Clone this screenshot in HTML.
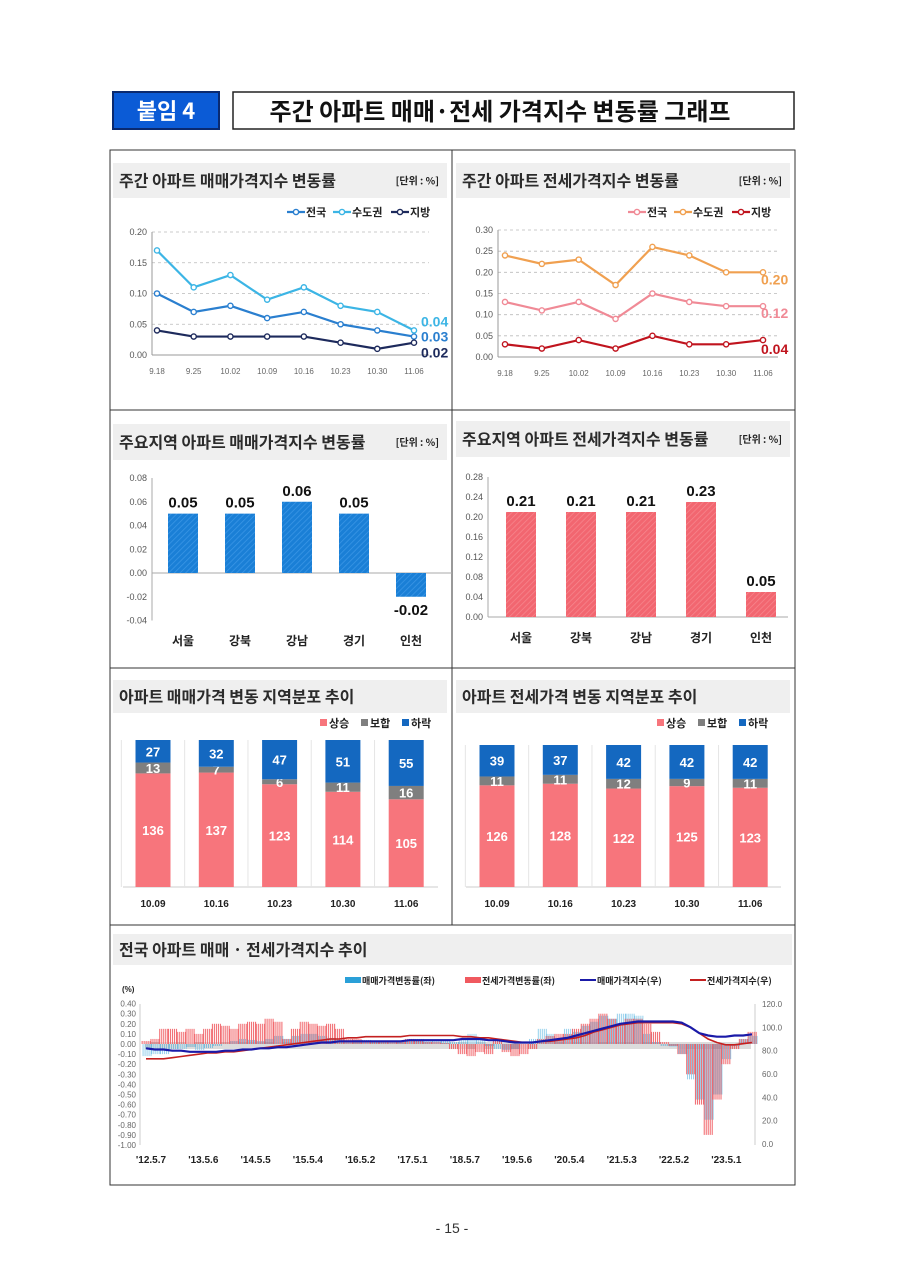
<!DOCTYPE html>
<html><head><meta charset="utf-8">
<style>
html,body{margin:0;padding:0;background:#fff;}
svg{display:block;font-family:"Liberation Sans","Noto Sans CJK KR",sans-serif;}
</style></head>
<body>
<svg id="pg" width="905" height="1280" viewBox="0 0 905 1280" xmlns="http://www.w3.org/2000/svg">
<defs>
<pattern id="hatchB" width="4" height="4" patternUnits="userSpaceOnUse" patternTransform="rotate(45)"><rect width="4" height="4" fill="#1a7fd6"/><line x1="0" y1="0" x2="0" y2="4" stroke="#3c97e6" stroke-width="1.5"/></pattern>
<pattern id="hatchR" width="4" height="4" patternUnits="userSpaceOnUse" patternTransform="rotate(45)"><rect width="4" height="4" fill="#f26670"/><line x1="0" y1="0" x2="0" y2="4" stroke="#f7868d" stroke-width="1.5"/></pattern>
</defs>
<g>
<rect x="113" y="92" width="106" height="37" fill="#0b5bd6" stroke="#0a2a70" stroke-width="2"/>
<text x="166" y="119" text-anchor="middle" font-size="22" font-weight="bold" fill="#fff" font-family="Noto Sans CJK KR,sans-serif">붙임 4</text>
</g>
<g>
<rect x="233" y="92" width="561" height="37" fill="#fff" stroke="#222" stroke-width="1.5"/>
<text x="500" y="120" text-anchor="middle" font-size="24" font-weight="bold" fill="#111" font-family="Noto Sans CJK KR,sans-serif">주간 아파트 매매·전세 가격지수 변동률 그래프</text>
</g>
<rect x="110" y="150" width="685" height="1035" fill="none" stroke="#333" stroke-width="1"/>
<line x1="452" y1="150" x2="452" y2="925" stroke="#333"/>
<line x1="110" y1="410" x2="795" y2="410" stroke="#333"/>
<line x1="110" y1="668" x2="795" y2="668" stroke="#333"/>
<line x1="110" y1="925" x2="795" y2="925" stroke="#333"/>
<g id="root"></g>
<text x="452" y="1233" text-anchor="middle" font-size="14" fill="#333">- 15 -</text>
</svg>
<script>
const weeks = ["9.18","9.25","10.02","10.09","10.16","10.23","10.30","11.06"];
const saleNation = [0.10,0.07,0.08,0.06,0.07,0.05,0.04,0.03];
const saleCapital = [0.17,0.11,0.13,0.09,0.11,0.08,0.07,0.04];
const saleLocal = [0.04,0.03,0.03,0.03,0.03,0.02,0.01,0.02];
const rentNation = [0.13,0.11,0.13,0.09,0.15,0.13,0.12,0.12];
const rentCapital = [0.24,0.22,0.23,0.17,0.26,0.24,0.20,0.20];
const rentLocal = [0.03,0.02,0.04,0.02,0.05,0.03,0.03,0.04];
const p1Ticks = ["0.00","0.05","0.10","0.15","0.20"];
const p2Ticks = ["0.00","0.05","0.10","0.15","0.20","0.25","0.30"];
const regions = ["서울","강북","강남","경기","인천"];
const regionSale = [0.05,0.05,0.06,0.05,-0.02];
const regionRent = [0.21,0.21,0.21,0.23,0.05];
const p3Ticks = ["-0.04","-0.02","0.00","0.02","0.04","0.06","0.08"];
const p4Ticks = ["0.00","0.04","0.08","0.12","0.16","0.20","0.24","0.28"];
const distWeeks = ["10.09","10.16","10.23","10.30","11.06"];
const saleUp = [136,137,123,114,105];
const saleFlat = [13,7,6,11,16];
const saleDown = [27,32,47,51,55];
const rentUp = [126,128,122,125,123];
const rentFlat = [11,11,12,9,11];
const rentDown = [39,37,42,42,42];
const longXLabels = ["'12.5.7","'13.5.6","'14.5.5","'15.5.4","'16.5.2","'17.5.1","'18.5.7","'19.5.6","'20.5.4","'21.5.3","'22.5.2","'23.5.1"];
const longLeftTicks = ["0.40","0.30","0.20","0.10","0.00","-0.10","-0.20","-0.30","-0.40","-0.50","-0.60","-0.70","-0.80","-0.90","-1.00"];
const longRightTicks = ["120.0","100.0","80.0","60.0","40.0","20.0","0.0"];
const rentChange = [0.03,0.05,0.15,0.15, 0.12,0.15,0.1,0.15,0.2,0.18, 0.15,0.2,0.22,0.2,0.25,0.22, 0.05,0.15,0.22,0.2,0.18,0.2, 0.15,0.05,0.05,0.03,0.02,0.03, 0.02,0.02,0.05,0.03,0.02,0.02, 0.01,-0.05,-0.10,-0.12,-0.08,-0.1, 0.05,-0.08,-0.12,-0.1,-0.05,0.05, 0.08,0.1,0.1,0.15,0.2,0.25, 0.3,0.25,0.2,0.25,0.25,0.2, 0.12,0.02,-0.02,-0.1,-0.3,-0.6, -0.9,-0.55,-0.2,-0.05,0.05,0.12];
const saleChange = [-0.12,-0.1,-0.1,-0.05, -0.05,-0.03,-0.06,-0.04,-0.02,0.0, 0.03,0.05,0.04,0.03,0.05,0.08, 0.05,0.08,0.1,0.1,0.08,0.06, 0.05,0.03,0.04,0.04,0.03,0.03, 0.02,0.03,0.04,0.05,0.04,0.04, 0.03,0.02,0.04,0.1,0.06,-0.02, -0.05,-0.06,-0.05,0.0,0.05,0.15, 0.1,0.05,0.15,0.12,0.18,0.22, 0.28,0.25,0.3,0.3,0.28,0.1, 0.02,-0.02,-0.03,-0.1,-0.35,-0.55, -0.75,-0.5,-0.15,-0.02,0.05,0.08];
const saleIndex = [82,81,81,80, 80,79,79,79,79,80, 80,81,81,82,82,83, 83,84,85,86,87,87, 88,88,88,88,88,88, 88,88,89,89,89,89, 89,89,90,90,90,89, 89,88,87,87,87,88, 89,90,91,93,95,97, 99,101,103,104,105,105, 105,105,105,104,100,95, 93,92,92,93,93,94];
const rentIndex = [73,73,73,74, 75,76,77,78,78,79, 79,80,81,82,83,84, 85,86,87,88,89,90, 90,91,91,92,92,92, 92,92,93,93,93,93, 93,93,92,92,91,91, 90,89,88,87,87,88, 88,89,90,91,93,96, 98,100,102,103,104,104, 104,104,104,103,100,95, 90,87,85,85,86,87];

const NS="http://www.w3.org/2000/svg";
const root=document.getElementById('root');
function mk(tag, attrs, parent){const e=document.createElementNS(NS,tag);for(const k in attrs)e.setAttribute(k,attrs[k]);(parent||root).appendChild(e);return e;}
function txt(x,y,s,size,fill,anchor,weight,parent){const e=mk('text',{x:x,y:y,'font-size':size,fill:fill,'text-anchor':anchor||'start','font-weight':weight||'normal'},parent);e.textContent=s;return e;}
const KR='"Noto Sans CJK KR",sans-serif';

function band(x,y,w,h,title,unit,name){
  const g=mk('g',{});
  
  
  mk('rect',{x:x,y:y,width:w,height:h,fill:'#efefef'},g);
  const t=txt(x+6,y+h/2+6,title,16,'#2b2b2b','start','bold',g);t.setAttribute('font-family',KR);
  if(unit){const u=txt(x+w-8,y+h/2+4,unit,10,'#222','end','bold',g);u.setAttribute('font-family',KR);}
}

function linePanel(o){
  band(o.bx,163,334,35,o.title,'[단위 : %]',o.name+'-title');
  const g=mk('g',{});
  
  
  const yS=v=>o.y0-(v/o.max)*(o.y0-o.ytop);
  const xS=i=>o.x0+i*(o.x1-o.x0)/(weeks.length-1);
  o.ticks.forEach(t=>{const v=parseFloat(t);const y=yS(v);
    if(v>0)mk('line',{x1:o.axisX,y1:y,x2:o.x1+15,y2:y,stroke:'#bbb','stroke-dasharray':'3,3','stroke-width':0.8},g);
    const tt=txt(o.axisX-5,y+3,t,9,'#555','end','normal',g);
    
  });
  mk('line',{x1:o.axisX,y1:o.ytop,x2:o.axisX,y2:o.y0,stroke:'#999'},g);
  mk('line',{x1:o.axisX,y1:o.y0,x2:o.x1+15,y2:o.y0,stroke:'#999'},g);
  weeks.forEach((w,i)=>{const tt=txt(xS(i),o.y0+19,w,8,'#666','middle','normal',g);});
  o.series.forEach(s=>{
    const pts=s.data.map((v,i)=>xS(i)+','+yS(v)).join(' ');
    const pl=mk('polyline',{points:pts,fill:'none',stroke:s.color,'stroke-width':2.2},g);
    
    
    s.data.forEach((v,i)=>{const c=mk('circle',{cx:xS(i),cy:yS(v),r:2.6,fill:'#fff',stroke:s.color,'stroke-width':1.4},g);
      
      });
    const last=s.data[s.data.length-1];
    const lb=txt(xS(s.data.length-1)+o.lblDx,yS(last)+s.dy,last.toFixed(2),14,s.color,'start','bold',g);
    
  });
  let lx=o.legX;
  o.series.forEach(s=>{
    const lg=mk('g',{},g);
    
    
    mk('line',{x1:lx,y1:212,x2:lx+18,y2:212,stroke:s.color,'stroke-width':2.2},lg);
    mk('circle',{cx:lx+9,cy:212,r:2.6,fill:'#fff',stroke:s.color,'stroke-width':1.4},lg);
    const t=txt(lx+19,216,s.label,11,'#222','start','bold',lg);t.setAttribute('font-family',KR);
    lx+=s.w;
  });
}

linePanel({name:'weekly-sale',bx:113,title:'주간 아파트 매매가격지수 변동률',ticks:p1Ticks,max:0.20,y0:355,ytop:232,axisX:152,x0:157,x1:414,legX:287,lblDx:7,
  series:[{name:'nation',label:'전국',data:saleNation,color:'#2a7fcf',dy:5,w:46},
          {name:'capital',label:'수도권',data:saleCapital,color:'#3cb5e5',dy:-4,w:58},
          {name:'local',label:'지방',data:saleLocal,color:'#1d2a5c',dy:15,w:40}]});
linePanel({name:'weekly-rent',bx:456,title:'주간 아파트 전세가격지수 변동률',ticks:p2Ticks,max:0.30,y0:357,ytop:230,axisX:498,x0:505,x1:763,legX:628,lblDx:-2,
  series:[{name:'nation',label:'전국',data:rentNation,color:'#f08a96',dy:12,w:46},
          {name:'capital',label:'수도권',data:rentCapital,color:'#f0a050',dy:12,w:58},
          {name:'local',label:'지방',data:rentLocal,color:'#c0141e',dy:14,w:40}]});

function barPanel(o){
  band(o.bx,o.by,334,36,o.title,'[단위 : %]',o.name+'-title');
  const g=mk('g',{});
  
  
  const yS=v=>o.y0-(v/o.max)*(o.y0-o.ytop);
  o.ticks.forEach(t=>{const y=yS(parseFloat(t));const tt=txt(o.axisX-5,y+3,t,9,'#555','end','normal',g);});
  mk('line',{x1:o.axisX,y1:yS(parseFloat(o.ticks[o.ticks.length-1])),x2:o.axisX,y2:yS(parseFloat(o.ticks[0])),stroke:'#aaa'},g);
  mk('line',{x1:o.axisX,y1:o.y0,x2:o.axisX+300,y2:o.y0,stroke:'#aaa'},g);
  regions.forEach((r,i)=>{
    const cx=o.cx0+i*o.step;const v=o.data[i];
    const y=Math.min(yS(v),o.y0);const h=Math.abs(yS(v)-o.y0);
    const b=mk('rect',{x:cx-15,y:y,width:30,height:h,fill:o.fill},g);
    
    
    const ly=v>=0?yS(v)-6:yS(v)+18;
    const lb=txt(cx,ly,v.toFixed(2),15,'#111','middle','bold',g);
    
    const c=txt(cx,o.catY,r,12,'#222','middle','bold',g);c.setAttribute('font-family',KR);
    
  });
}
barPanel({name:'region-sale',bx:113,by:424,title:'주요지역 아파트 매매가격지수 변동률',ticks:p3Ticks,max:0.08,y0:573,ytop:478,axisX:152,cx0:183,step:57,data:regionSale,fill:'url(#hatchB)',catY:645});
barPanel({name:'region-rent',bx:456,by:421,title:'주요지역 아파트 전세가격지수 변동률',ticks:p4Ticks,max:0.28,y0:617,ytop:477,axisX:488,cx0:521,step:60,data:regionRent,fill:'url(#hatchR)',catY:642});

function stackPanel(o){
  band(o.bx,680,334,33,o.title,null,o.name+'-title');
  const g=mk('g',{});
  
  
  const L=[['상승','#f7757c'],['보합','#7f7f7f'],['하락','#1468c0']];
  L.forEach((l,i)=>{const lx=o.legX+i*41;
    const lg=mk('g',{},g);
    
    
    mk('rect',{x:lx,y:719,width:7,height:7,fill:l[1]},lg);
    const t=txt(lx+9,727,l[0],11,'#222','start','bold',lg);t.setAttribute('font-family',KR);});
  mk('line',{x1:o.bx+10,y1:o.bottom,x2:o.bx+325,y2:o.bottom,stroke:'#ccc'},g);
  distWeeks.forEach((w,i)=>{
    const cx=o.cx0+i*o.step;
    mk('line',{x1:cx-o.step/2,y1:o.top,x2:cx-o.step/2,y2:o.bottom,stroke:'#e5e5e5'},g);
    const tot=o.up[i]+o.flat[i]+o.down[i];
    const sc=(o.bottom-o.top)/tot;
    let y=o.bottom;
    [[o.up[i],'#f7757c','up'],[o.flat[i],'#7f7f7f','flat'],[o.down[i],'#1468c0','down']].forEach(s=>{
      const h=s[0]*sc;y-=h;
      const r=mk('rect',{x:cx-17.5,y:y,width:35,height:h,fill:s[1]},g);
      
      
      const t=txt(cx,y+h/2+5,String(s[0]),13,'#fff','middle','bold',g);
      
    });
    const xl=txt(cx,o.bottom+20,w,10,'#222','middle','bold',g);
    
  });
}
stackPanel({name:'sale-distribution',bx:113,title:'아파트 매매가격 변동 지역분포 추이',legX:320,cx0:153,step:63.3,top:740,bottom:887,up:saleUp,flat:saleFlat,down:saleDown});
stackPanel({name:'rent-distribution',bx:456,title:'아파트 전세가격 변동 지역분포 추이',legX:657,cx0:497,step:63.3,top:745,bottom:887,up:rentUp,flat:rentFlat,down:rentDown});

band(113,934,679,31,'전국 아파트 매매 · 전세가격지수 추이',null,'long-term-title');
(function(){
  const g=mk('g',{});
  
  
  const yL=v=>1044-v*101;
  const yR=v=>1144-v*(140/120);
  const n=rentChange.length;
  const xS=i=>146+i*(752-146)/(n-1);
  longLeftTicks.forEach(t=>{const tt=txt(136,yL(parseFloat(t))+3,t,8,'#666','end','normal',g);});
  longRightTicks.forEach(t=>{const tt=txt(762,yR(parseFloat(t))+3,t,8,'#666','start','normal',g);});
  txt(122,992,'(%)',8,'#222','start','bold',g);
  mk('line',{x1:140,y1:1004,x2:140,y2:1145,stroke:'#ccc'},g);
  mk('line',{x1:755,y1:1004,x2:755,y2:1145,stroke:'#ccc'},g);
  // grey comb along zero line
  for(let x=146;x<752;x+=2){mk('line',{x1:x,y1:1042,x2:x,y2:1049,stroke:'#a8a8a8','stroke-width':0.8},g);}
  const bw=(752-146)/(n-1);
  for(let i=0;i<n;i++){
    const v=rentChange[i], s=saleChange[i];
    for(let k=0;k<bw;k+=2){
      const x=xS(i)-bw/2+k;
      const r=mk('rect',{x:x,y:Math.min(yL(v),1044),width:1.1,height:Math.abs(yL(v)-1044),fill:'#f0595f','fill-opacity':0.85},g);
      
      
      const b=mk('rect',{x:x+1,y:Math.min(yL(s),1044),width:0.9,height:Math.abs(yL(s)-1044),fill:'#2aa0d8','fill-opacity':0.55},g);
      
      
    }
  }
  const rl=mk('polyline',{points:rentIndex.map((v,i)=>xS(i)+','+yR(v)).join(' '),fill:'none',stroke:'#c42020','stroke-width':1.6},g);
  
  
  const sl=mk('polyline',{points:saleIndex.map((v,i)=>xS(i)+','+yR(v)).join(' '),fill:'none',stroke:'#1a1aa8','stroke-width':2.2},g);
  
  
  longXLabels.forEach((l,i)=>{const t=txt(151+i*52.3,1163,l,10,'#222','middle','bold',g);});
  const LG=[['rect','#2aa0d8','매매가격변동률(좌)',345],['rect','#f0595f','전세가격변동률(좌)',465],['line','#1a1aa8','매매가격지수(우)',580],['line','#c42020','전세가격지수(우)',690]];
  LG.forEach(l=>{
    const lg=mk('g',{},g);
    
    
    if(l[0]==='rect')mk('rect',{x:l[3],y:977,width:16,height:6,fill:l[1]},lg);
    else mk('line',{x1:l[3],y1:980,x2:l[3]+16,y2:980,stroke:l[1],'stroke-width':2},lg);
    const t=txt(l[3]+17,984,l[2],9,'#222','start','bold',lg);t.setAttribute('font-family',KR);
  });
})();
</script>
</body></html>
